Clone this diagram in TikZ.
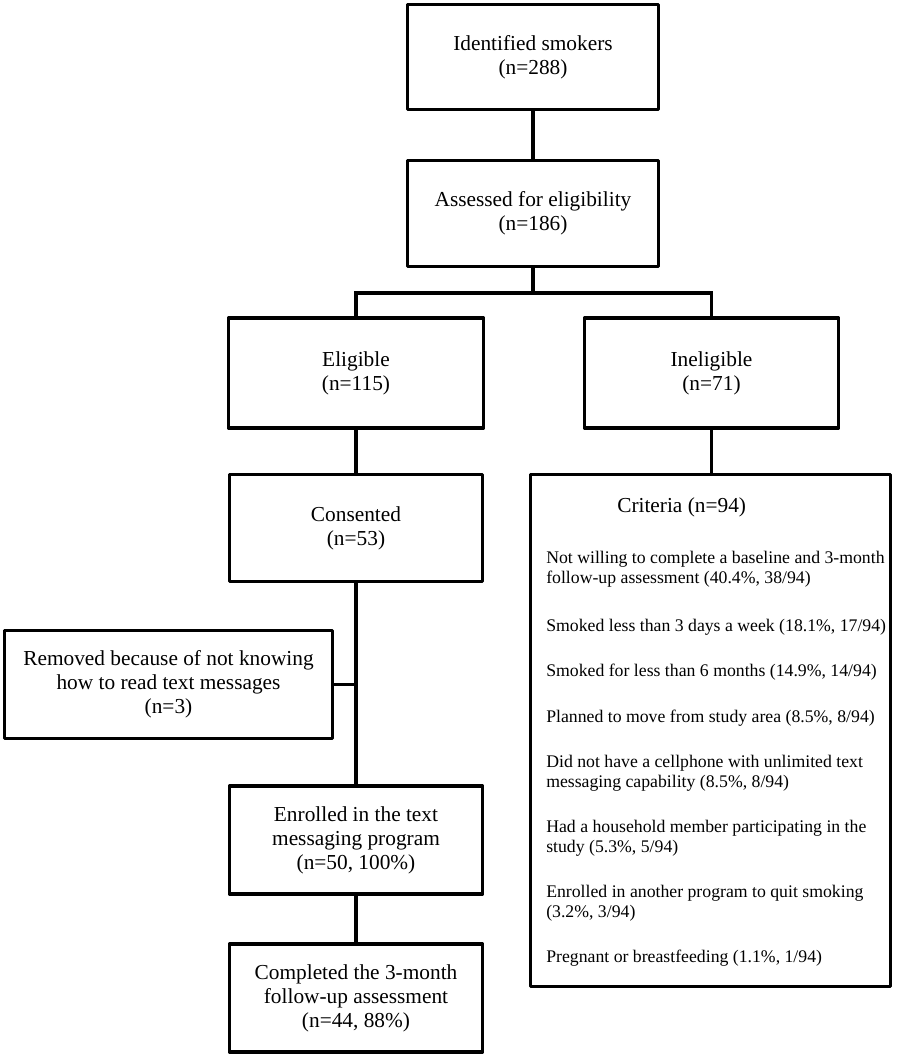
\documentclass[tikz,border=0pt]{standalone}
\usepackage{fontspec}
\setmainfont{Liberation Serif}
\tikzset{
  box/.style={draw=black, line width=2.8pt, line join=round, fill=white, align=center,
    inner sep=0pt, font=\fontsize{16}{18}\selectfont},
  conn/.style={draw=black, line width=2.8pt},
  item/.style={anchor=west, align=left, inner sep=0pt, font=\fontsize{13.3}{15}\selectfont},
  head/.style={anchor=west, inner sep=0pt, font=\fontsize{16}{18}\selectfont}
}
\begin{document}
\begin{tikzpicture}[x=0.75pt,y=-0.75pt]
\useasboundingbox (0,0) rectangle (896,1056);
\node[box, minimum width={251*0.75pt}, minimum height={105*0.75pt}] (ident) at (533,57) {Identified smokers\\(n=288)};
\node[box, minimum width={251*0.75pt}, minimum height={106*0.75pt}] (assess) at (533,213.5) {Assessed for eligibility\\(n=186)};
\node[box, minimum width={255*0.75pt}, minimum height={110*0.75pt}] (elig) at (356,373) {Eligible\\(n=115)};
\node[box, minimum width={254*0.75pt}, minimum height={110*0.75pt}] (inelig) at (711.5,373) {Ineligible\\(n=71)};
\node[box, minimum width={253*0.75pt}, minimum height={107*0.75pt}] (consent) at (356,528) {Consented\\(n=53)};
\node[box, minimum width={360*0.75pt}, minimum height={512*0.75pt}] (crit) at (710.5,730.5) {};
\node[box, minimum width={328*0.75pt}, minimum height={108*0.75pt}] (removed) at (168.5,684.5) {Removed because of not knowing\\how to read text messages\\(n=3)};
\node[box, minimum width={253*0.75pt}, minimum height={108*0.75pt}] (enrolled) at (356,840) {Enrolled in the text\\messaging program\\(n=50, 100\%)};
\node[box, minimum width={253*0.75pt}, minimum height={108*0.75pt}] (completed) at (356,998) {Completed the 3-month\\follow-up assessment\\(n=44, 88\%)};

\node[head] (crithead) at (617,507) {Criteria (n=94)};
\node[item] (c1) at (546,569) {Not willing to complete a baseline and 3-month\\follow-up assessment (40.4\%, 38/94)};
\node[item] (c2) at (546,627) {Smoked less than 3 days a week (18.1\%, 17/94)};
\node[item] (c3) at (546,672) {Smoked for less than 6 months (14.9\%, 14/94)};
\node[item] (c4) at (546,718) {Planned to move from study area (8.5\%, 8/94)};
\node[item] (c5) at (546,773) {Did not have a cellphone with unlimited text\\messaging capability (8.5\%, 8/94)};
\node[item] (c6) at (546,838) {Had a household member participating in the\\study (5.3\%, 5/94)};
\node[item] (c7) at (546,903) {Enrolled in another program to quit smoking\\(3.2\%, 3/94)};
\node[item] (c8) at (546,958) {Pregnant or breastfeeding (1.1\%, 1/94)};

\coordinate (bar) at (533,293);
\draw[conn] (ident.south) -- (assess.north);
\draw[conn] (assess.south) -- (bar);
\draw[conn] (elig.north) |- (bar) -| (inelig.north);
\draw[conn] (elig.south) -- (consent.north);
\draw[conn] (inelig.south) -- (inelig.south |- crit.north);
\draw[conn] (consent.south) -- (enrolled.north);
\coordinate (join) at (removed.east -| consent.south);
\draw[conn] (removed.east) -- (join);
\draw[conn] (enrolled.south) -- (completed.north);
\end{tikzpicture}
\end{document}
